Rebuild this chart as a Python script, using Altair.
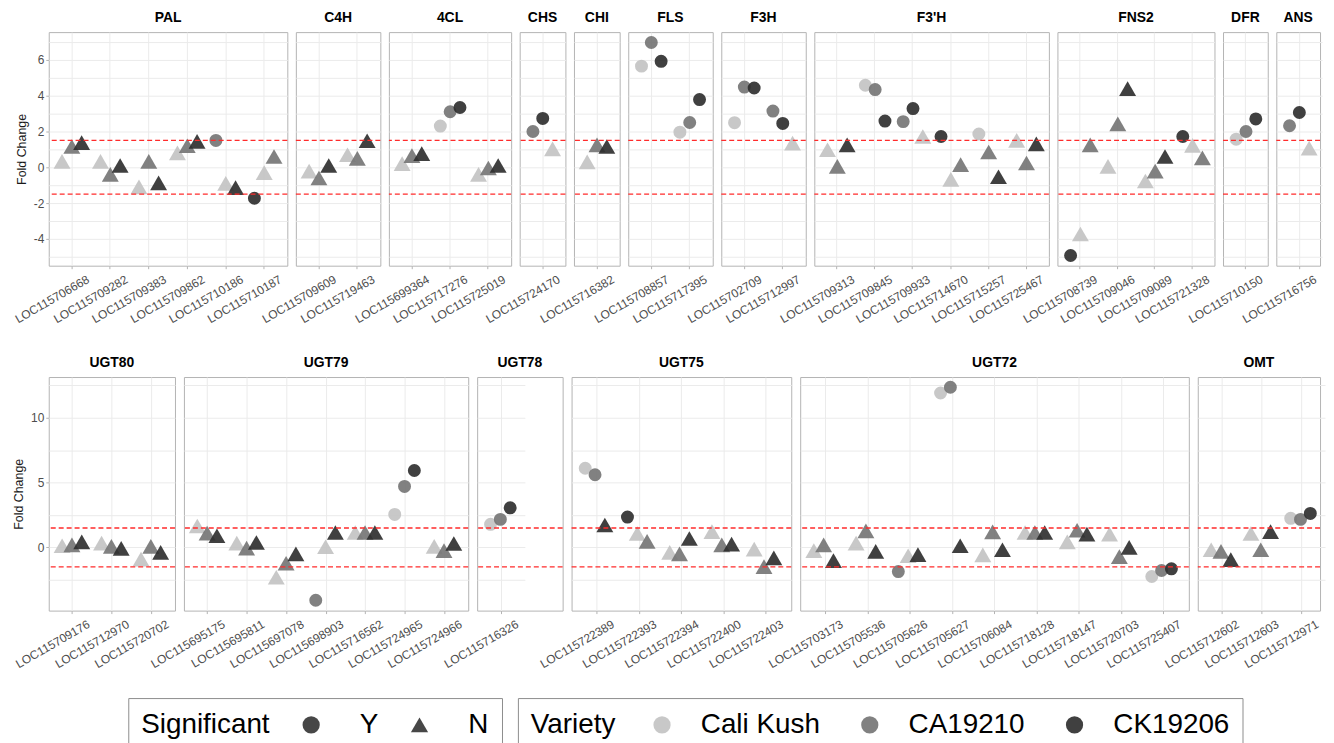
import altair as alt
import pandas as pd

# ---------------- data ----------------
VARIETIES = ["Cali Kush", "CA19210", "CK19206"]
SIGNIFICANCE = ["Y", "N"]
THRESHOLDS = [1.5, -1.5]

TOP_ROW = ["PAL", "C4H", "4CL", "CHS", "CHI", "FLS", "F3H", "F3'H", "FNS2", "DFR", "ANS"]
BOTTOM_ROW = ["UGT80", "UGT79", "UGT78", "UGT75", "UGT72", "OMT"]

FAMILY_GENES = {
    "PAL": ["LOC115706668", "LOC115709282", "LOC115709383", "LOC115709862", "LOC115710186", "LOC115710187"],
    "C4H": ["LOC115709609", "LOC115719463"],
    "4CL": ["LOC115699364", "LOC115717276", "LOC115725019"],
    "CHS": ["LOC115724170"],
    "CHI": ["LOC115716382"],
    "FLS": ["LOC115708857", "LOC115717395"],
    "F3H": ["LOC115702709", "LOC115712997"],
    "F3'H": ["LOC115709313", "LOC115709845", "LOC115709933", "LOC115714670", "LOC115715257", "LOC115725467"],
    "FNS2": ["LOC115708739", "LOC115709046", "LOC115709089", "LOC115721328"],
    "DFR": ["LOC115710150"],
    "ANS": ["LOC115716756"],
    "UGT80": ["LOC115709176", "LOC115712970", "LOC115720702"],
    "UGT79": ["LOC115695175", "LOC115695811", "LOC115697078", "LOC115698903", "LOC115716562",
              "LOC115724965", "LOC115724966"],
    "UGT78": ["LOC115716326"],
    "UGT75": ["LOC115722389", "LOC115722393", "LOC115722394", "LOC115722400", "LOC115722403"],
    "UGT72": ["LOC115703173", "LOC115705536", "LOC115705626", "LOC115705627", "LOC115706084",
              "LOC115718128", "LOC115718147", "LOC115720703", "LOC115725407"],
    "OMT": ["LOC115712602", "LOC115712603", "LOC115712971"],
}

# fold changes, genes in the order above (top row families, then bottom row)
FC_CALI_KUSH = [
    0.33, 0.33, -1.10, 0.80, -0.90, -0.30,
    -0.22, 0.70,
    0.20, 2.30, -0.40,
    1.03,
    0.30,
    5.65, 1.96,
    2.49, 1.35,
    0.98, 4.58, 1.72, -0.68, 1.86, 1.50,
    -3.73, 0.05, -0.77, 1.22,
    1.57,
    1.07,
    0.13, 0.33, -0.90,
    1.65, 0.33, -2.30, 0.05, 1.15, 2.54, 0.08,
    1.78,
    6.10, 1.07, -0.38, 1.22, -0.13,
    -0.25, 0.33, -0.64, 11.90, -0.58, 1.15, 0.43, 1.02, -2.24,
    -0.18, 1.07, 2.24,
]
SIG_CALI_KUSH = [
    "N", "N", "N", "N", "N", "N",
    "N", "N",
    "N", "Y", "N",
    "N",
    "N",
    "Y", "Y",
    "Y", "N",
    "N", "Y", "N", "N", "Y", "N",
    "N", "N", "N", "N",
    "Y",
    "N",
    "N", "N", "N",
    "N", "N", "N", "N", "N", "Y", "N",
    "Y",
    "Y", "N", "N", "N", "N",
    "N", "N", "N", "Y", "N", "N", "N", "N", "Y",
    "N", "N", "Y",
]
FC_CA19210 = [
    1.16, -0.40, 0.33, 1.20, 1.50, 0.60,
    -0.60, 0.50,
    0.65, 3.10, -0.04,
    2.00,
    1.25,
    6.97, 2.50,
    4.48, 3.14,
    0.05, 4.34, 2.55, 0.15, 0.85, 0.24,
    1.25, 2.42, -0.22, 0.52,
    2.00,
    2.32,
    0.20, 0.08, 0.08,
    1.10, -0.05, -1.22, -4.07, 1.15, 4.70, -0.25,
    2.16,
    5.60, 0.46, -0.50, 0.20, -1.48,
    0.20, 1.27, -1.86, 12.34, 1.20, 1.15, 1.32, -0.71, -1.78,
    -0.30, -0.18, 2.16,
]
SIG_CA19210 = [
    "N", "N", "N", "N", "Y", "N",
    "N", "N",
    "N", "Y", "N",
    "Y",
    "N",
    "Y", "Y",
    "Y", "Y",
    "N", "Y", "Y", "N", "N", "N",
    "N", "N", "N", "N",
    "Y",
    "Y",
    "N", "N", "N",
    "N", "N", "N", "Y", "N", "Y", "N",
    "Y",
    "Y", "N", "N", "N", "N",
    "N", "N", "Y", "Y", "N", "N", "N", "N", "Y",
    "N", "N", "Y",
]
FC_CK19206 = [
    1.38, 0.10, -0.87, 1.45, -1.14, -1.73,
    0.10, 1.48,
    0.76, 3.34, 0.10,
    2.73,
    1.16,
    5.92, 3.78,
    4.43, 2.45,
    1.25, 2.58, 3.28, 1.72, -0.53, 1.31,
    -4.93, 4.39, 0.60, 1.72,
    2.70,
    3.06,
    0.43, -0.08, -0.38,
    0.90, 0.38, -0.50, 1.15, 1.15, 5.93, 0.30,
    3.05,
    1.73, 2.34, 0.69, 0.25, -0.81,
    -1.02, -0.30, -0.56, 0.13, -0.18, 1.15, 1.02, 0.00, -1.65,
    -0.94, 1.22, 2.62,
]
SIG_CK19206 = [
    "N", "N", "N", "N", "N", "Y",
    "N", "N",
    "N", "Y", "N",
    "Y",
    "N",
    "Y", "Y",
    "Y", "Y",
    "N", "Y", "Y", "Y", "N", "N",
    "Y", "N", "N", "Y",
    "Y",
    "Y",
    "N", "N", "N",
    "N", "N", "N", "N", "N", "Y", "N",
    "Y",
    "N", "Y", "N", "N", "N",
    "N", "N", "N", "N", "N", "N", "N", "N", "Y",
    "N", "N", "Y",
]

# ---------------- table ----------------
rows = []
i = 0
for fam in TOP_ROW + BOTTOM_ROW:
    for gene in FAMILY_GENES[fam]:
        for var, fc, sig in zip(VARIETIES,
                                [FC_CALI_KUSH[i], FC_CA19210[i], FC_CK19206[i]],
                                [SIG_CALI_KUSH[i], SIG_CA19210[i], SIG_CK19206[i]]):
            rows.append({"family": fam, "gene": gene, "variety": var, "fc": fc, "sig": sig})
        i += 1
df = pd.DataFrame(rows)
rules_df = pd.DataFrame({"fc": THRESHOLDS})

# ---------------- layout / style ----------------
FONT = "Liberation Sans"
GREY_TXT = "#4d4d4d"
GRID = "#ebebeb"
BORDER = "#b3b3b3"
PANEL_H = 235
DODGE_FRAC = 0.17  # dodge distance as a fraction of the gene step

WIDTHS = {"PAL": 240, "C4H": 85, "4CL": 123, "CHS": 46, "CHI": 46, "FLS": 85, "F3H": 85,
          "F3'H": 236, "FNS2": 158, "DFR": 45, "ANS": 44,
          "UGT80": 127, "UGT79": 286, "UGT78": 86, "UGT75": 221, "UGT72": 391, "OMT": 123}
SPANS = {"ANS": 46, "UGT78": 48, "OMT": 128}

ROW_Y = {
    "top": dict(domain=[-5.5, 7.55], values=[-5, -4, -3, -2, -1, 0, 1, 2, 3, 4, 5, 6, 7], major=2),
    "bottom": dict(domain=[-4.87, 13.13], values=[-2.5, 0, 2.5, 5, 7.5, 10, 12.5], major=5),
}

legend_common = dict(
    orient="none", direction="horizontal", titleOrient="left",
    labelFont=FONT, titleFont=FONT, labelFontSize=28, titleFontSize=28,
    titleFontWeight="normal", labelColor="black", titleColor="black",
    strokeColor="#8c8c8c", padding=13, symbolSize=300, symbolStrokeWidth=0,
    legendY=670,
)


def panel(fam, row, first):
    genes = FAMILY_GENES[fam]
    width = WIDTHS[fam]
    span = SPANS.get(fam, width)
    step = span / (len(genes) + 0.2)
    d = step * DODGE_FRAC
    spec = ROW_Y[row]
    major = spec["major"]
    test = f"datum.value % {major} === 0"
    if first:
        yaxis = alt.Axis(
            values=spec["values"], title="Fold Change", titleFont=FONT, titleFontSize=12.5,
            titleFontWeight="normal", titleColor="#1a1a1a", titlePadding=5,
            labelExpr=f"{test} ? '' + datum.value : ''", labelFont=FONT, labelFontSize=12,
            labelColor=GREY_TXT, labelPadding=2, tickColor=BORDER, tickSize=3,
            tickOpacity={"condition": {"test": test, "value": 1}, "value": 0},
            gridColor=GRID, domain=False)
    else:
        yaxis = alt.Axis(values=spec["values"], title=None, labels=False, ticks=False,
                         gridColor=GRID, domain=False)
    yenc = alt.Y("fc:Q", scale=alt.Scale(domain=spec["domain"], nice=False, zero=False), axis=yaxis)

    xenc = alt.X("gene:N", sort=genes,
                 scale=alt.Scale(type="band", domain=genes, range=[0, span],
                                 paddingInner=0, paddingOuter=0.1),
                 axis=alt.Axis(title=None, grid=True, gridColor=GRID, domain=False,
                               labelAngle=-30, labelAlign="right", labelBaseline="top",
                               labelOffset=14, labelPadding=5, labelFont=FONT, labelFontSize=12,
                               labelColor=GREY_TXT, tickColor=BORDER, tickSize=3))

    points = alt.Chart().transform_filter(
        alt.FieldEqualPredicate(field="family", equal=fam)
    ).transform_calculate(
        dodge_key="(datum.sig == 'Y' ? 0 : 10) + indexof(['Cali Kush', 'CA19210', 'CK19206'], datum.variety)"
    ).transform_window(
        dodge="row_number()", groupby=["gene"], sort=[alt.SortField("dodge_key")]
    ).mark_point(filled=True, opacity=0.9, strokeWidth=0).encode(
        x=xenc,
        xOffset=alt.XOffset("dodge:O", scale=alt.Scale(domain=[1, 2, 3], paddingOuter=0, paddingInner=0,
                                                       range=[step / 2 - 1.5 * d, step / 2 + 1.5 * d])),
        color=alt.Color("variety:N", scale=alt.Scale(domain=VARIETIES, range=["#c2c2c2", "#737373", "#2b2b2b"]),
                        legend=alt.Legend(title="Variety", legendX=472, symbolType="circle",
                                          titlePadding=32, labelOffset=25, columnPadding=36,
                                          **legend_common)),
        shape=alt.Shape("sig:N", scale=alt.Scale(domain=SIGNIFICANCE, range=["circle", "triangle-up"]),
                        legend=alt.Legend(title="Significant", legendX=80, symbolFillColor="#333333",
                                          titlePadding=27, labelOffset=35, columnPadding=27,
                                          **legend_common)),
        size=alt.condition(alt.FieldEqualPredicate(field="sig", equal="Y"), alt.value(170), alt.value(290)),
    )

    rules = alt.Chart(rules_df).mark_rule(color="#ff2b2b", strokeDash=[5, 3], strokeWidth=1.4)

    return alt.layer(points, rules).encode(y=yenc).properties(
        width=width, height=PANEL_H,
        title=alt.TitleParams(fam, font=FONT, fontSize=14, fontWeight="bold", color="black",
                              anchor="middle", offset=7),
    )


top = alt.hconcat(*[panel(f, "top", k == 0) for k, f in enumerate(TOP_ROW)], spacing=8.6, bounds="flush")
bottom = alt.hconcat(*[panel(f, "bottom", k == 0) for k, f in enumerate(BOTTOM_ROW)], spacing=9,
                     bounds="flush")

chart = alt.vconcat(top, bottom, spacing=30, data=df).resolve_scale(
    color="shared", shape="shared"
).properties(
    padding={"left": 4, "top": 0, "right": 0, "bottom": 0}
).configure_view(stroke=BORDER, strokeWidth=1)

chart.save("out.html", embed_options={"renderer": "svg", "actions": False})
